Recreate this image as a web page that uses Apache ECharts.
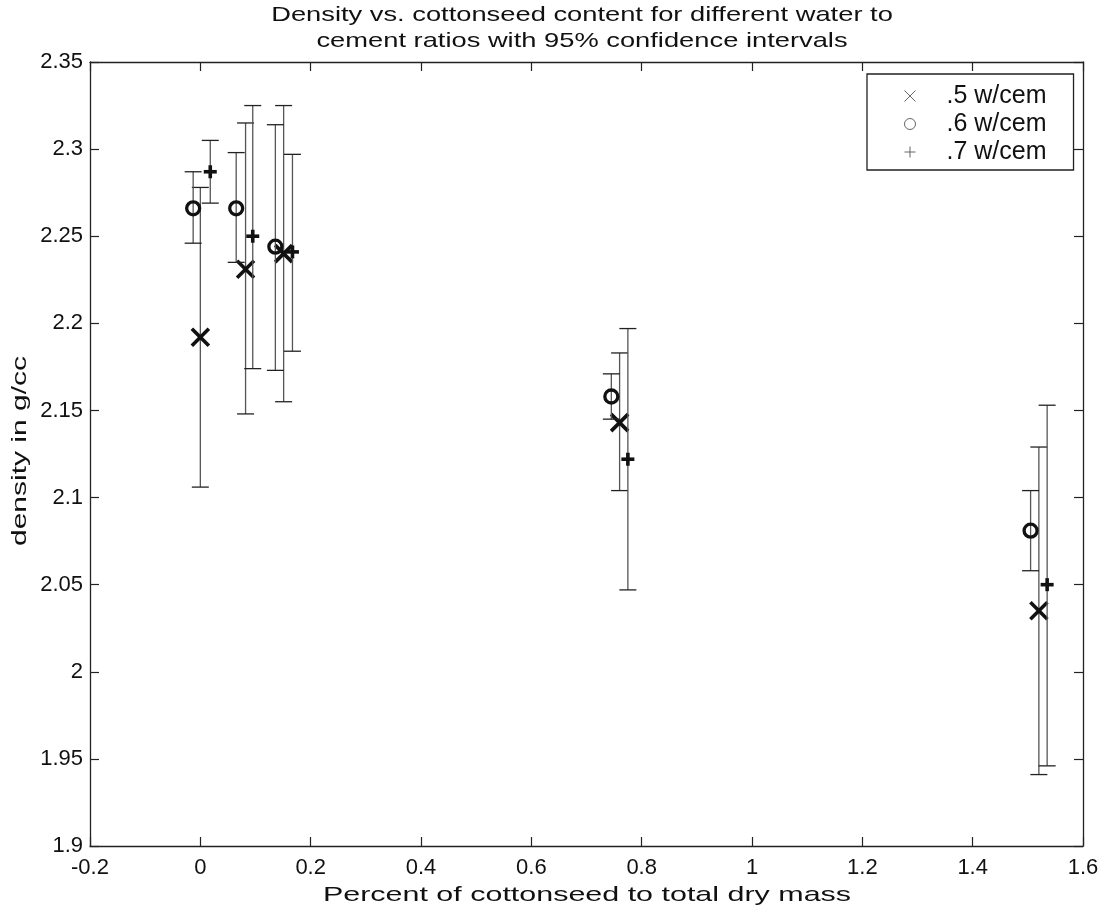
<!DOCTYPE html>
<html>
<head>
<meta charset="utf-8">
<script src="https://cdn.jsdelivr.net/npm/echarts@6/dist/echarts.min.js"></script>
<style>
  html, body { margin: 0; padding: 0; background: #fff; }
  #chart { width: 1105px; height: 909px; }
</style>
</head>
<body>
<div id="chart"></div>
<script>
// values: x, mean density, lower / upper 95% bound
const names = [".5 w/cem", ".6 w/cem", ".7 w/cem"];

const x5 = [0.0, 0.082, 0.151, 0.76, 1.52];
const y5 = [2.192, 2.231, 2.240, 2.143, 2.035];
const lo5 = [2.106, 2.148, 2.155, 2.104, 1.941];
const hi5 = [2.278, 2.315, 2.325, 2.183, 2.129];

const x6 = [-0.013, 0.065, 0.136, 0.745, 1.505];
const y6 = [2.266, 2.266, 2.244, 2.158, 2.081];
const lo6 = [2.246, 2.235, 2.173, 2.145, 2.058];
const hi6 = [2.287, 2.298, 2.314, 2.171, 2.104];

const x7 = [0.018, 0.095, 0.167, 0.775, 1.535];
const y7 = [2.287, 2.250, 2.241, 2.122, 2.050];
const lo7 = [2.269, 2.174, 2.184, 2.047, 1.946];
const hi7 = [2.305, 2.325, 2.297, 2.197, 2.153];

const titleLines = [
  "Density vs. cottonseed content for different water to",
  "cement ratios with 95% confidence intervals"
];
const xName = "Percent of cottonseed to total dry mass";
const yName = "density in g/cc";

function rows(xs, ys, lo, hi) {
  return xs.map((x, i) => [x, ys[i], lo[i], hi[i]]);
}

const barColor = "#555";
const capColor = "#222";
const markColor = "#111";

// draws error bar + marker for one point
function renderItem(kind) {
  return function (params, api) {
    const x = api.value(0);
    const p = api.coord([x, api.value(1)]);
    const pl = api.coord([x, api.value(2)]);
    const ph = api.coord([x, api.value(3)]);
    const cap = 8.5;
    const barStyle = { stroke: barColor, lineWidth: 1.3 };
    const capStyle = { stroke: capColor, lineWidth: 1.3 };
    const markStyle = { stroke: markColor, lineWidth: 3.6, fill: "none" };
    const children = [
      { type: "line", shape: { x1: pl[0], y1: pl[1], x2: ph[0], y2: ph[1] }, style: barStyle },
      { type: "line", shape: { x1: pl[0] - cap, y1: pl[1], x2: pl[0] + cap, y2: pl[1] }, style: capStyle },
      { type: "line", shape: { x1: ph[0] - cap, y1: ph[1], x2: ph[0] + cap, y2: ph[1] }, style: capStyle }
    ];
    if (kind === "x") {
      const s = 8.5;
      children.push(
        { type: "line", shape: { x1: p[0] - s, y1: p[1] - s, x2: p[0] + s, y2: p[1] + s }, style: markStyle },
        { type: "line", shape: { x1: p[0] - s, y1: p[1] + s, x2: p[0] + s, y2: p[1] - s }, style: markStyle }
      );
    } else if (kind === "o") {
      children.push({ type: "circle", shape: { cx: p[0], cy: p[1], r: 6.5 }, style: Object.assign({}, markStyle, { lineWidth: 3.3 }) });
    } else {
      const s = 6.5;
      children.push(
        { type: "line", shape: { x1: p[0] - s, y1: p[1], x2: p[0] + s, y2: p[1] }, style: markStyle },
        { type: "line", shape: { x1: p[0], y1: p[1] - s, x2: p[0], y2: p[1] + s }, style: markStyle }
      );
    }
    return { type: "group", children: children };
  };
}

const font = "Liberation Sans, Arial, sans-serif";
const axisLine = { show: true, onZero: false, lineStyle: { color: "#222", width: 1.3 } };
const axisTick = { show: true, inside: true, length: 9, lineStyle: { color: "#222", width: 1.2 } };
const tickLabel = { color: "#111", fontSize: 22, fontFamily: font };

// the labels in the picture are drawn wider than the tick font, so stretch them a bit
function label(text, x, y, size, stretch, rotation) {
  return {
    type: "text", x: x, y: y, rotation: rotation || 0, scaleX: stretch, silent: true,
    style: {
      text: text, fontSize: size, fontFamily: font, fill: "#111",
      align: "center", verticalAlign: "middle", textAlign: "center", textVerticalAlign: "middle"
    }
  };
}

const option = {
  animation: false,
  backgroundColor: "#fff",
  graphic: [
    label(titleLines[0], 582, 15, 21, 1.3),
    label(titleLines[1], 582, 41, 21, 1.3),
    label(xName, 587, 895, 21, 1.45),
    label(yName, 20, 451, 20, 1.5, Math.PI / 2)
  ],
  legend: {
    orient: "vertical",
    left: 867,
    top: 74,
    padding: [8, 27, 4, 35],
    itemGap: 0,
    itemWidth: 11,
    itemHeight: 11,
    borderColor: "#222",
    borderWidth: 1.3,
    borderRadius: 0,
    backgroundColor: "#fff",
    textStyle: { fontSize: 25, color: "#111", fontFamily: font, lineHeight: 28, padding: [0, 0, 0, 26] },
    data: [
      { name: names[0], icon: "path://M0,0L10,10M10,0L0,10", itemStyle: { color: "none", borderColor: "#666", borderWidth: 1 } },
      { name: names[1], icon: "circle", itemStyle: { color: "none", borderColor: "#666", borderWidth: 1 } },
      { name: names[2], icon: "path://M5,0L5,10M0,5L10,5", itemStyle: { color: "none", borderColor: "#666", borderWidth: 1 } }
    ]
  },
  grid: { left: 90, right: 22, top: 62, bottom: 63 },
  xAxis: [
    {
      type: "value", min: -0.2, max: 1.6, interval: 0.2,
      axisLine: axisLine, axisTick: axisTick,
      axisLabel: Object.assign({}, tickLabel, { margin: 11 }),
      splitLine: { show: false }
    },
    {
      type: "value", position: "top", min: -0.2, max: 1.6, interval: 0.2,
      axisLine: axisLine, axisTick: axisTick, axisLabel: { show: false }, splitLine: { show: false }
    }
  ],
  yAxis: [
    {
      type: "value", min: 1.9, max: 2.35, interval: 0.05,
      axisLine: axisLine, axisTick: axisTick,
      axisLabel: Object.assign({}, tickLabel, { margin: 7 }),
      splitLine: { show: false }
    },
    {
      type: "value", position: "right", min: 1.9, max: 2.35, interval: 0.05,
      axisLine: axisLine, axisTick: axisTick, axisLabel: { show: false }, splitLine: { show: false }
    }
  ],
  series: [
    { name: names[0], type: "custom", renderItem: renderItem("x"), data: rows(x5, y5, lo5, hi5), encode: { x: 0, y: [1, 2, 3] }, itemStyle: { color: "#666" }, z: 3 },
    { name: names[1], type: "custom", renderItem: renderItem("o"), data: rows(x6, y6, lo6, hi6), encode: { x: 0, y: [1, 2, 3] }, itemStyle: { color: "#666" }, z: 3 },
    { name: names[2], type: "custom", renderItem: renderItem("+"), data: rows(x7, y7, lo7, hi7), encode: { x: 0, y: [1, 2, 3] }, itemStyle: { color: "#666" }, z: 3 }
  ]
};

const chart = echarts.init(document.getElementById("chart"));
chart.setOption(option);
</script>
</body>
</html>
